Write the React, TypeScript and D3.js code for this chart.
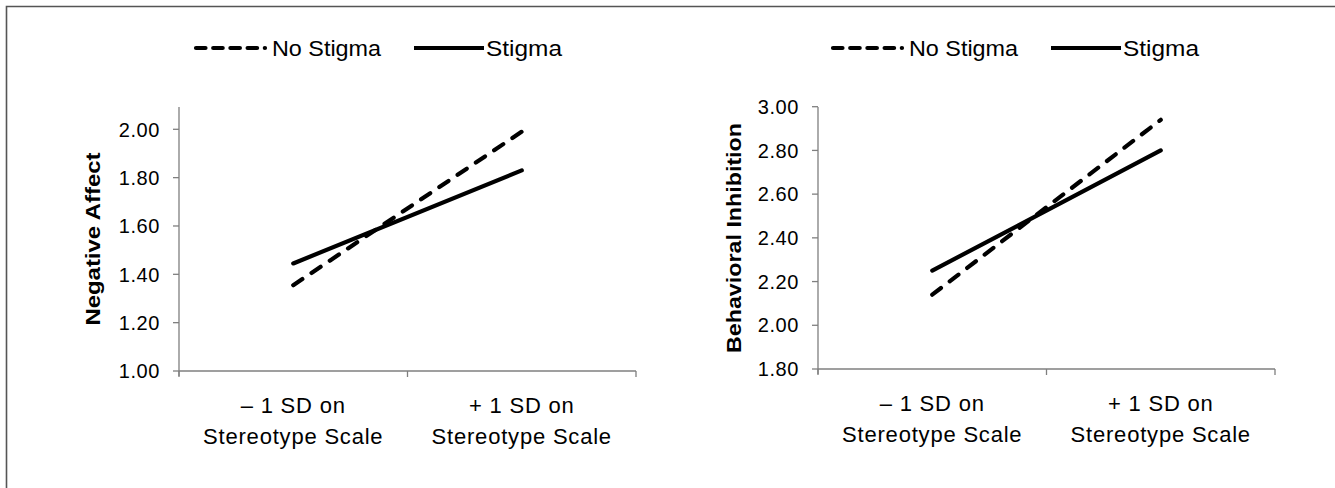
import React from "react";
import * as d3 from "d3";

const categories = ["– 1 SD on|Stereotype Scale", "+ 1 SD on|Stereotype Scale"];
const seriesNames = ["No Stigma", "Stigma"];
const affectNoStigma = [1.355, 1.99];
const affectStigma = [1.445, 1.83];
const inhibNoStigma = [2.14, 2.94];
const inhibStigma = [2.25, 2.80];
const affectTicks = [1.0, 1.2, 1.4, 1.6, 1.8, 2.0];
const inhibTicks = [1.8, 2.0, 2.2, 2.4, 2.6, 2.8, 3.0];

const FONT = "'Liberation Sans', Arial, sans-serif";

type PanelProps = {
  x0: number; x1: number; yTop: number; yBottom: number;
  domain: [number, number]; domainTopPx: number;
  ticks: number[]; title: string; titleX: number; titleLen: number;
  noStigma: number[]; stigma: number[];
  legendX: number;
};

function Panel(p: PanelProps) {
  const x = d3.scaleBand<string>().domain(categories).range([p.x0, p.x1]);
  const y = d3.scaleLinear().domain(p.domain).range([p.yBottom, p.domainTopPx]);
  const line = d3.line<number>()
    .x((_, i) => (x(categories[i]) as number) + x.bandwidth() / 2)
    .y((v) => y(v));
  const midY = (p.yTop + p.yBottom) / 2;
  const lx = p.legendX;
  return (
    <g>
      {/* legend */}
      <line x1={lx + 2} x2={lx + 71} y1={48} y2={48} stroke="#000" strokeWidth={4.2}
        strokeDasharray="9.5 7.7" strokeLinecap="round" />
      <text x={lx + 78} y={56} fontFamily={FONT} fontSize={22} textLength={109}
        lengthAdjust="spacingAndGlyphs" fill="#000">{seriesNames[0]}</text>
      <line x1={lx + 220} x2={lx + 290} y1={48} y2={48} stroke="#000" strokeWidth={4.2} />
      <text x={lx + 292} y={56} fontFamily={FONT} fontSize={22} textLength={76}
        lengthAdjust="spacingAndGlyphs" fill="#000">{seriesNames[1]}</text>

      {/* y axis */}
      <line x1={p.x0} x2={p.x0} y1={p.yTop} y2={p.yBottom + 5} stroke="#7f7f7f" strokeWidth={1.3} />
      {p.ticks.map((t) => (
        <g key={t}>
          <line x1={p.x0 - 6} x2={p.x0} y1={y(t)} y2={y(t)} stroke="#7f7f7f" strokeWidth={1.3} />
          <text x={p.x0 - 19} y={y(t)} dy="0.36em" textAnchor="end" fontFamily={FONT}
            fontSize={20} letterSpacing={0.6} fill="#000">{d3.format(".2f")(t)}</text>
        </g>
      ))}
      <text transform={`translate(${p.titleX},${midY}) rotate(-90)`} textAnchor="middle"
        dy="0.36em" fontFamily={FONT} fontSize={21} fontWeight="bold" fill="#000"
        textLength={p.titleLen} lengthAdjust="spacingAndGlyphs">{p.title}</text>

      {/* x axis */}
      <line x1={p.x0} x2={p.x1} y1={p.yBottom} y2={p.yBottom} stroke="#7f7f7f" strokeWidth={1.3} />
      {[p.x0, (p.x0 + p.x1) / 2, p.x1].map((tx, i) => (
        <line key={i} x1={tx} x2={tx} y1={p.yBottom} y2={p.yBottom + 6} stroke="#7f7f7f" strokeWidth={1.3} />
      ))}
      {categories.map((c) => {
        const cx = (x(c) as number) + x.bandwidth() / 2;
        const parts = c.split("|");
        return (
          <text key={c} x={cx} textAnchor="middle" fontFamily={FONT} fontSize={22}
            letterSpacing={0.8} fill="#000">
            <tspan x={cx} y={p.yBottom + 42}>{parts[0]}</tspan>
            <tspan x={cx} y={p.yBottom + 73}>{parts[1]}</tspan>
          </text>
        );
      })}

      {/* series */}
      <path d={line(p.stigma) || ""} fill="none" stroke="#000" strokeWidth={4.2} strokeLinecap="round" />
      <path d={line(p.noStigma) || ""} fill="none" stroke="#000" strokeWidth={4.2}
        strokeDasharray="11 11" strokeLinecap="round" />
    </g>
  );
}

export default function App() {
  return (
    <svg width={1335} height={488} style={{ position: "absolute", left: 0, top: 0, background: "#fff" }}>
      <rect x={0} y={0} width={1335} height={488} fill="#fff" />
      <path d="M6.5,500 L6.5,6.5 L1340,6.5" fill="none" stroke="#555" strokeWidth={1.6} />
      <Panel x0={179} x1={636} yTop={107} yBottom={371} domain={[1.0, 2.0]} domainTopPx={129.3}
        ticks={affectTicks} title="Negative Affect" titleX={92} titleLen={173}
        noStigma={affectNoStigma} stigma={affectStigma} legendX={194} />
      <Panel x0={818} x1={1275} yTop={107} yBottom={369} domain={[1.8, 3.0]} domainTopPx={106.7}
        ticks={inhibTicks} title="Behavioral Inhibition" titleX={733} titleLen={230}
        noStigma={inhibNoStigma} stigma={inhibStigma} legendX={831} />
    </svg>
  );
}
